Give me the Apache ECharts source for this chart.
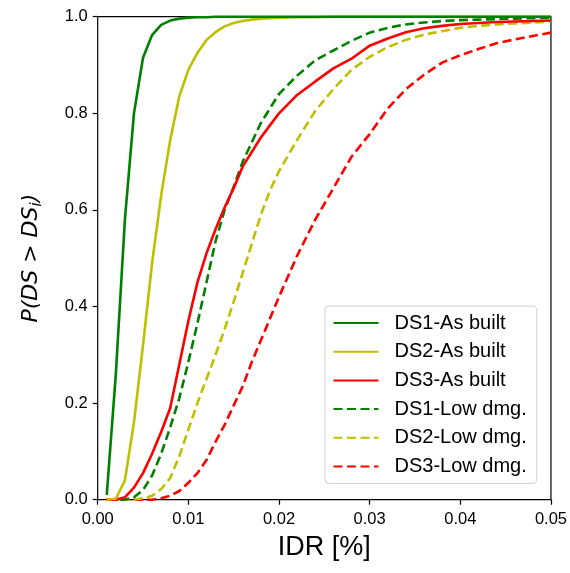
<!DOCTYPE html>
<html>
<head>
<meta charset="utf-8">
<script src="https://cdn.jsdelivr.net/npm/echarts@6/dist/echarts.min.js"></script>
<style>
    html, body { margin: 0; padding: 0; background: #fff; }
    #fragility { width: 570px; height: 573px; }
</style>
</head>
<body>
<div id="fragility"></div>
<script>

// Data
// ------------------------------

var idr = [0.001, 0.002, 0.003, 0.004, 0.005, 0.006, 0.007, 0.008, 0.009, 0.010,
           0.011, 0.012, 0.013, 0.014, 0.015, 0.016, 0.017, 0.018, 0.019, 0.020,
           0.022, 0.024, 0.026, 0.028, 0.030, 0.032, 0.034, 0.036, 0.038, 0.040,
           0.042, 0.044, 0.046, 0.048, 0.050];

var ds1Built = [0.01, 0.26, 0.58, 0.80, 0.915, 0.962, 0.983, 0.992, 0.996, 0.998,
                0.999, 0.999, 1, 1, 1, 1, 1, 1, 1, 1,
                1, 1, 1, 1, 1, 1, 1, 1, 1, 1,
                1, 1, 1, 1, 1];

var ds2Built = [0, 0.002, 0.04, 0.16, 0.32, 0.49, 0.63, 0.745, 0.835, 0.89,
                0.925, 0.952, 0.968, 0.98, 0.987, 0.991, 0.994, 0.996, 0.997, 0.998,
                0.999, 0.999, 1, 1, 1, 1, 1, 1, 1, 1,
                1, 1, 1, 1, 1];

var ds3Built = [0, 0, 0.005, 0.025, 0.055, 0.095, 0.14, 0.19, 0.28, 0.37,
                0.45, 0.51, 0.56, 0.605, 0.645, 0.69, 0.72, 0.75, 0.775, 0.80,
                0.838, 0.866, 0.893, 0.913, 0.94, 0.955, 0.968, 0.976, 0.981, 0.985,
                0.987, 0.989, 0.99, 0.991, 0.992];

var ds1Low = [0, 0, 0, 0.005, 0.02, 0.05, 0.095, 0.15, 0.21, 0.285,
              0.365, 0.45, 0.535, 0.60, 0.648, 0.70, 0.74, 0.78, 0.81, 0.84,
              0.878, 0.91, 0.93, 0.95, 0.967, 0.977, 0.984, 0.988, 0.991, 0.993,
              0.994, 0.995, 0.996, 0.997, 0.998];

var ds2Low = [0, 0, 0, 0, 0.003, 0.008, 0.022, 0.045, 0.09, 0.145,
              0.2, 0.25, 0.30, 0.353, 0.41, 0.47, 0.53, 0.59, 0.64, 0.68,
              0.745, 0.805, 0.85, 0.89, 0.917, 0.937, 0.952, 0.963, 0.97, 0.977,
              0.981, 0.984, 0.986, 0.988, 0.99];

var ds3Low = [0, 0, 0, 0, 0, 0, 0.003, 0.008, 0.018, 0.035,
              0.055, 0.082, 0.12, 0.155, 0.195, 0.235, 0.285, 0.33, 0.375, 0.42,
              0.505, 0.58, 0.645, 0.71, 0.757, 0.81, 0.85, 0.88, 0.905, 0.92,
              0.933, 0.945, 0.953, 0.96, 0.967];

var seriesNames = ['DS1-As built', 'DS2-As built', 'DS3-As built',
                   'DS1-Low dmg.', 'DS2-Low dmg.', 'DS3-Low dmg.'];
var seriesValues = [ds1Built, ds2Built, ds3Built, ds1Low, ds2Low, ds3Low];
var seriesColors = ['#008000', '#bfbf00', '#ff0000', '#008000', '#bfbf00', '#ff0000'];


// Chart
// ------------------------------

var chartElement = document.getElementById('fragility');
var chart = echarts.init(chartElement, null, { renderer: 'canvas' });

var series = seriesNames.map(function(name, k) {
    var pts = [];
    for (var i = 0; i < idr.length; i++) {
        pts.push([idr[i], seriesValues[k][i]]);
    }
    return {
        name: name,
        type: 'line',
        data: pts,
        symbol: 'circle',
        symbolSize: 0,
        showSymbol: false,
        smooth: false,
        clip: false,
        z: 10 - k,
        lineStyle: {
            color: seriesColors[k],
            width: 2.6,
            type: k < 3 ? 'solid' : [9, 4.5]
        },
        itemStyle: { color: seriesColors[k] }
    };
});

chart.setOption({
    animation: false,
    textStyle: {
        fontFamily: '"Liberation Sans", Arial, sans-serif'
    },

    grid: {
        left: 97.7,
        right: 19,
        top: 16.7,
        bottom: 73.3,
        show: true,
        borderColor: '#000',
        borderWidth: 1.2,
        backgroundColor: 'transparent'
    },

    legend: {
        orient: 'vertical',
        left: 325,
        top: 306,
        data: seriesNames,
        itemWidth: 45,
        itemHeight: 4,
        itemGap: 8.7,
        padding: [7, 10, 7, 7.5],
        borderColor: '#d0d0d0',
        borderWidth: 1,
        borderRadius: 4,
        backgroundColor: 'rgba(255,255,255,0.85)',
        itemStyle: { opacity: 0 },
        textStyle: {
            fontSize: 20,
            lineHeight: 20,
            color: '#000',
            padding: [0, 0, 0, 11]
        }
    },

    xAxis: {
        type: 'value',
        min: 0,
        max: 0.05,
        interval: 0.01,
        name: 'IDR [%]',
        nameLocation: 'middle',
        nameGap: 34,
        nameTextStyle: {
            fontSize: 27,
            color: '#000',
            verticalAlign: 'top'
        },
        axisLine: { show: false },
        axisTick: {
            show: true,
            inside: false,
            length: 5,
            lineStyle: { color: '#000', width: 1.2 }
        },
        axisLabel: {
            fontSize: 16.5,
            color: '#000',
            margin: 11,
            formatter: function(v) { return v.toFixed(2); }
        },
        splitLine: { show: false }
    },

    yAxis: {
        type: 'value',
        min: 0,
        max: 1,
        interval: 0.2,
        name: '{m|P(DS > DS}{s|i}{m|)}',
        nameLocation: 'middle',
        nameGap: 53,
        nameRotate: 90,
        nameTextStyle: {
            rich: {
                m: {
                    fontFamily: '"DejaVu Sans", sans-serif',
                    fontStyle: 'italic',
                    fontSize: 22,
                    lineHeight: 27,
                    color: '#000'
                },
                s: {
                    fontFamily: '"DejaVu Sans", sans-serif',
                    fontStyle: 'italic',
                    fontSize: 15,
                    lineHeight: 13,
                    verticalAlign: 'bottom',
                    color: '#000'
                }
            }
        },
        axisLine: { show: false },
        axisTick: {
            show: true,
            inside: false,
            length: 5,
            lineStyle: { color: '#000', width: 1.2 }
        },
        axisLabel: {
            fontSize: 16.5,
            color: '#000',
            margin: 10,
            formatter: function(v) { return v.toFixed(1); }
        },
        splitLine: { show: false }
    },

    series: series
});

window.addEventListener('resize', function() {
    chart.resize();
});
</script>
</body>
</html>
